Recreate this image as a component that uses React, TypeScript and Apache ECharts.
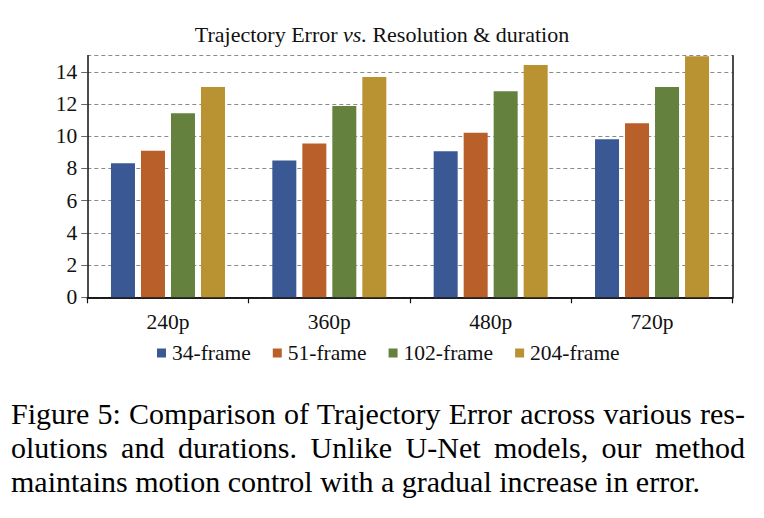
import React, { useEffect, useRef } from "react";
import * as echarts from "echarts";

const categories = ["240p", "360p", "480p", "720p"];
const seriesNames = ["34-frame", "51-frame", "102-frame", "204-frame"];
const frames34 = [8.33, 8.5, 9.06, 9.82];
const frames51 = [9.1, 9.55, 10.21, 10.81];
const frames102 = [11.43, 11.87, 12.8, 13.05];
const frames204 = [13.05, 13.67, 14.43, 14.97];
const seriesValues = [frames34, frames51, frames102, frames204];
const seriesColors = ["#3A5894", "#B9602A", "#64813E", "#B99232"];
const yMin = 0;
const yMax = 15;
const yInterval = 2;
const titleText = "Trajectory Error {i|vs.} Resolution & duration";
const captionLines = [
  "Figure 5: Comparison of Trajectory Error across various res-",
  "olutions and durations. Unlike U-Net models, our method",
  "maintains motion control with a gradual increase in error.",
];

const FONT = '"Liberation Serif", "Times New Roman", serif';
const TXT = "#111";

export default function App() {
  const ref = useRef<HTMLDivElement>(null);
  useEffect(() => {
    if (!ref.current) return;
    const chart = echarts.init(ref.current, null, { renderer: "svg" });
    chart.setOption({
      animation: false,
      backgroundColor: "#fff",
      title: {
        text: titleText,
        left: "center",
        top: 23,
        padding: 0,
        textStyle: {
          fontFamily: FONT,
          fontSize: 22,
          fontWeight: "normal",
          color: TXT,
          rich: {
            i: { fontFamily: FONT, fontSize: 22, fontStyle: "italic", color: TXT },
          },
        },
      },
      grid: { left: 87.3, right: 31.3, top: 55.7, bottom: 220.7 },
      legend: {
        data: seriesNames,
        left: 157,
        top: 342,
        padding: 0,
        icon: "rect",
        itemWidth: 9,
        itemHeight: 9,
        itemGap: 22,
        textStyle: { fontFamily: FONT, fontSize: 21.5, color: TXT, padding: [0, 0, 0, 1] },
      },
      xAxis: [
        {
          type: "category",
          data: categories,
          axisLine: { show: true, lineStyle: { color: "#111", width: 1.5 } },
          axisTick: { show: true, length: 6, lineStyle: { color: "#111", width: 1.2 } },
          axisLabel: { fontFamily: FONT, fontSize: 21.5, color: TXT, margin: 14 },
          splitLine: { show: false },
        },
        {
          type: "category",
          data: categories,
          position: "top",
          axisLine: { show: true, lineStyle: { color: "#111", width: 1.5 } },
          axisTick: { show: false },
          axisLabel: { show: false },
          splitLine: { show: false },
        },
      ],
      yAxis: [
        {
          type: "value",
          min: yMin,
          max: yMax,
          interval: yInterval,
          axisLine: { show: true, lineStyle: { color: "#111", width: 1.5 } },
          axisTick: { show: true, length: 6, lineStyle: { color: "#666", width: 1 } },
          axisLabel: {
            fontFamily: FONT,
            fontSize: 21.5,
            color: TXT,
            margin: 10,
            showMaxLabel: false,
          },
          splitLine: {
            show: true,
            lineStyle: { color: "#8a8a8a", width: 1, type: [4, 3] },
          },
        },
        {
          type: "value",
          min: yMin,
          max: yMax,
          interval: yInterval,
          position: "right",
          axisLine: { show: true, lineStyle: { color: "#111", width: 1.5 } },
          axisTick: { show: false },
          axisLabel: { show: false },
          splitLine: { show: false },
        },
      ],
      series: seriesNames.map((name, i) => ({
        name,
        type: "bar",
        data: seriesValues[i],
        barWidth: 24,
        barGap: "25%",
        itemStyle: { color: seriesColors[i] },
      })),
    });
    return () => chart.dispose();
  }, []);

  return (
    <div style={{ position: "absolute", left: 0, top: 0, width: 764, height: 518, background: "#fff" }}>
      <div ref={ref} style={{ position: "absolute", left: 0, top: 0, width: 764, height: 518 }} />
      <div
        style={{
          position: "absolute",
          left: 11,
          top: 397.3,
          width: 734,
          fontFamily: FONT,
          fontSize: 30,
          lineHeight: "33.7px",
          color: "#000",
        }}
      >
        {captionLines.map((line, i) => (
          <div
            key={i}
            style={{
              textAlign: i < captionLines.length - 1 ? "justify" : "left",
              textAlignLast: i < captionLines.length - 1 ? "justify" : "left",
            }}
          >
            {line}
          </div>
        ))}
      </div>
    </div>
  );
}
